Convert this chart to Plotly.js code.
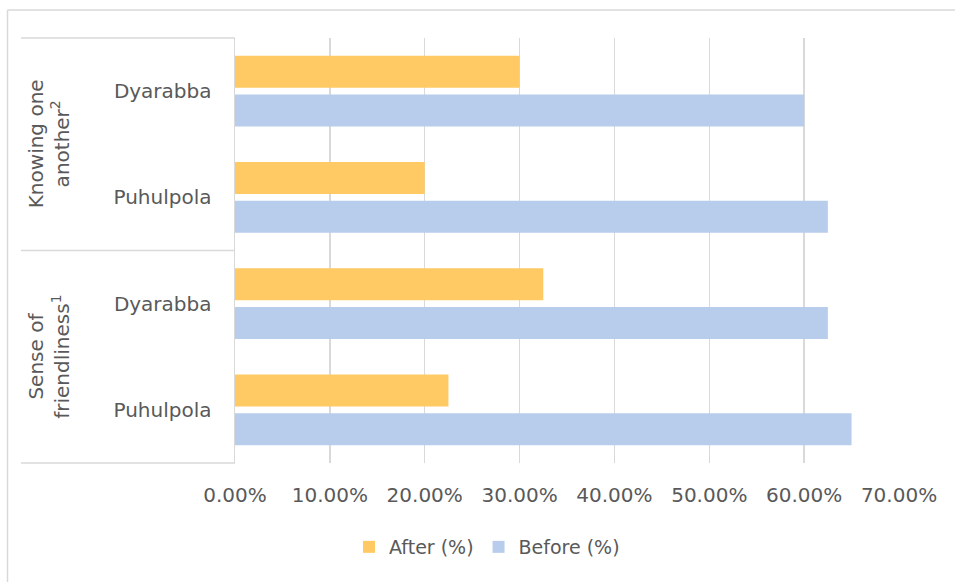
<!DOCTYPE html>
<html>
<head>
<meta charset="utf-8">
<script src="https://cdn.plot.ly/plotly-3.0.1.min.js"></script>
<style>html,body{margin:0;padding:0;background:#fff;}#chart{width:955px;height:583px;}</style>
</head>
<body>
<div id="chart"></div>
<script>
// Data
const groups = ["Knowing one<br>another<sup>2</sup>", "Sense of<br>friendliness<sup>1</sup>"];
const groupKeys = ["Knowing", "Sense"];
const sites = ["Dyarabba", "Puhulpola"];
const seriesNames = ["After (%)", "Before (%)"];
// values in order: Knowing/Dyarabba, Knowing/Puhulpola, Sense/Dyarabba, Sense/Puhulpola
const afterVals = [0.30, 0.20, 0.325, 0.225];
const beforeVals = [0.60, 0.625, 0.625, 0.65];
const xTicks = [0, 0.1, 0.2, 0.3, 0.4, 0.5, 0.6, 0.7];

const catKeys = [];
const catLabels = [];
groupKeys.forEach(g => sites.forEach(s => { catKeys.push(g + "|" + s); catLabels.push(s); }));

const FONT = "DejaVu Sans, sans-serif";
const GREY = "#595959";
const LINE = "#d9d9d9";

const traces = [
  {type: "bar", orientation: "h", name: seriesNames[0], y: catKeys, x: afterVals,
   marker: {color: "#FFCA64"}, hoverinfo: "x"},
  {type: "bar", orientation: "h", name: seriesNames[1], y: catKeys, x: beforeVals,
   marker: {color: "#B8CDEB"}, hoverinfo: "x"}
];

const L = 235, R = 56, T = 38, B = 120;
const W = 955, H = 583;
const pw = W - L - R, ph = H - T - B;
const px = v => (v - L) / pw;       // pixel x -> paper x
const py = v => (H - B - v) / ph;   // pixel y -> paper y

const shapes = [
  {type: "line", xref: "paper", yref: "paper", x0: px(21), x1: 0, y0: 1, y1: 1, line: {color: LINE, width: 1.5}},
  {type: "line", xref: "paper", yref: "paper", x0: px(21), x1: 0, y0: 0.5, y1: 0.5, line: {color: LINE, width: 1.5}},
  {type: "line", xref: "paper", yref: "paper", x0: px(21), x1: 0, y0: 0, y1: 0, line: {color: LINE, width: 1.5}},
  {type: "line", xref: "paper", yref: "paper", x0: px(7.5), x1: px(7.5), y0: py(10), y1: py(582), line: {color: LINE, width: 1.5}},
  {type: "line", xref: "paper", yref: "paper", x0: px(7.5), x1: px(955), y0: py(10), y1: py(10), line: {color: LINE, width: 1.5}}
];

const annotations = groups.map((g, i) => ({
  xref: "paper", yref: "paper", x: px(49), y: 0.75 - 0.5 * i, text: g, textangle: -90,
  showarrow: false, font: {family: FONT, size: 20, color: GREY}, xanchor: "center", yanchor: "middle"
}));

const layout = {
  width: W, height: H,
  margin: {l: L, r: R, t: T, b: B, pad: 0},
  paper_bgcolor: "#ffffff", plot_bgcolor: "#ffffff",
  barmode: "group", bargap: 0.27, bargroupgap: 0.18,
  font: {family: FONT, color: GREY, size: 20},
  xaxis: {range: [0, 0.7], tickvals: xTicks, tickformat: ".2%", showgrid: true, gridcolor: LINE, gridwidth: 1.5,
          zeroline: false, showline: false, ticks: "", ticklabelstandoff: 18,
          tickfont: {family: FONT, size: 20, color: GREY}, fixedrange: true},
  yaxis: {type: "category", categoryorder: "array", categoryarray: catKeys, autorange: "reversed",
          tickvals: catKeys, ticktext: catLabels, showgrid: false, zeroline: false,
          showline: true, linecolor: LINE, linewidth: 1.5, ticks: "", ticklabelstandoff: 18,
          tickfont: {family: FONT, size: 20, color: GREY}, fixedrange: true},
  showlegend: true,
  legend: {orientation: "h", x: px(487), xanchor: "center", y: -(547 - (H - B)) / ph, yanchor: "middle",
           font: {family: FONT, size: 19, color: GREY}, traceorder: "normal", itemwidth: 30},
  shapes: shapes,
  annotations: annotations
};

Plotly.newPlot("chart", traces, layout, {displayModeBar: false, staticPlot: true});
</script>
</body>
</html>
